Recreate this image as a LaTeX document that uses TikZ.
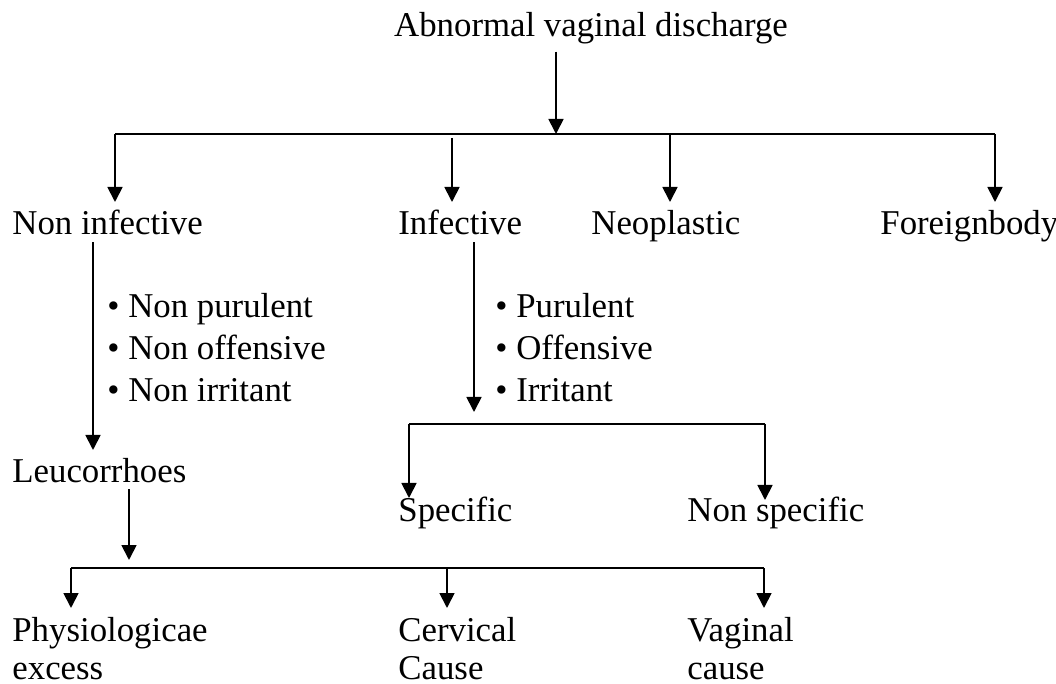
\documentclass[tikz,border=0pt]{standalone}
\usepackage{fontspec}
\setmainfont{Liberation Serif}
\usetikzlibrary{arrows.meta}
\begin{document}
\begin{tikzpicture}[x=0.5pt,y=-0.5pt,>={Triangle[length=7.5pt,width=7.5pt]},
  every node/.style={font=\fontsize{17.4}{19}\selectfont},
  lbl/.style={anchor=base west,inner xsep=0pt},
  blist/.style={lbl,align=left,font=\fontsize{17.4}{21.2}\selectfont},
  bar/.style={line width=1.2pt},
  link/.style={->,line width=0.9pt}]
\useasboundingbox (0,0) rectangle (1056,684);
% nodes
\node[anchor=base] (avd) at (591,37) {Abnormal vaginal discharge};
\node[lbl] (noninf) at (12,235) {Non infective};
\node[lbl] (inf) at (398,235) {Infective};
\node[lbl] (neo) at (591,235) {Neoplastic};
\node[lbl] (fbody) at (880,235) {Foreignbody};
\node[blist] (nonsym) at (107,402) {\textbullet{} Non purulent\\\textbullet{} Non offensive\\\textbullet{} Non irritant};
\node[blist] (sym) at (495,402) {\textbullet{} Purulent\\\textbullet{} Offensive\\\textbullet{} Irritant};
\node[lbl] (leuc) at (12,482) {Leucorrhoes};
\node[lbl] (spec) at (398,522) {Specific};
\node[lbl] (nonspec) at (687,522) {Non specific};
\node[lbl,align=left] (phys) at (12,679) {Physiologicae\\excess};
\node[lbl,align=left] (cerv) at (398,679) {Cervical\\Cause};
\node[lbl,align=left] (vag) at (687,679) {Vaginal\\cause};
% branch points
\coordinate (top) at (556,134);
\coordinate (dni) at (115,134);
\coordinate (dinf) at (452,138);
\coordinate (dneo) at (670,134);
\coordinate (dfb) at (995,134);
\coordinate (tni) at (93,450);
\coordinate (tinf) at (474,412);
\coordinate (dspec) at (409,424);
\coordinate (dnon) at (765,424);
\coordinate (tleuc) at (129,560);
\coordinate (dphys) at (71,568);
\coordinate (dcerv) at (447,568);
\coordinate (dvag) at (764,568);
% connectors
\draw[link] (avd.south -| top) -- (top);
\draw[bar] (dni) -- (dfb);
\draw[link] (dni) -- ++(0,68);
\draw[link] (dinf) -- ++(0,64);
\draw[link] (dneo) -- ++(0,68);
\draw[link] (dfb) -- ++(0,68);
\draw[link] (noninf.south -| tni) -- (tni);
\draw[link] (inf.south -| tinf) -- (tinf);
\draw[bar] (dspec) -- (dnon);
\draw[link] (dspec) -- ++(0,74);
\draw[link] (dnon) -- ++(0,76);
\draw[link] (leuc.south -| tleuc) -- (tleuc);
\draw[bar] (dphys) -- (dvag);
\draw[link] (dphys) -- ++(0,40);
\draw[link] (dcerv) -- ++(0,40);
\draw[link] (dvag) -- ++(0,40);
\end{tikzpicture}
\end{document}
